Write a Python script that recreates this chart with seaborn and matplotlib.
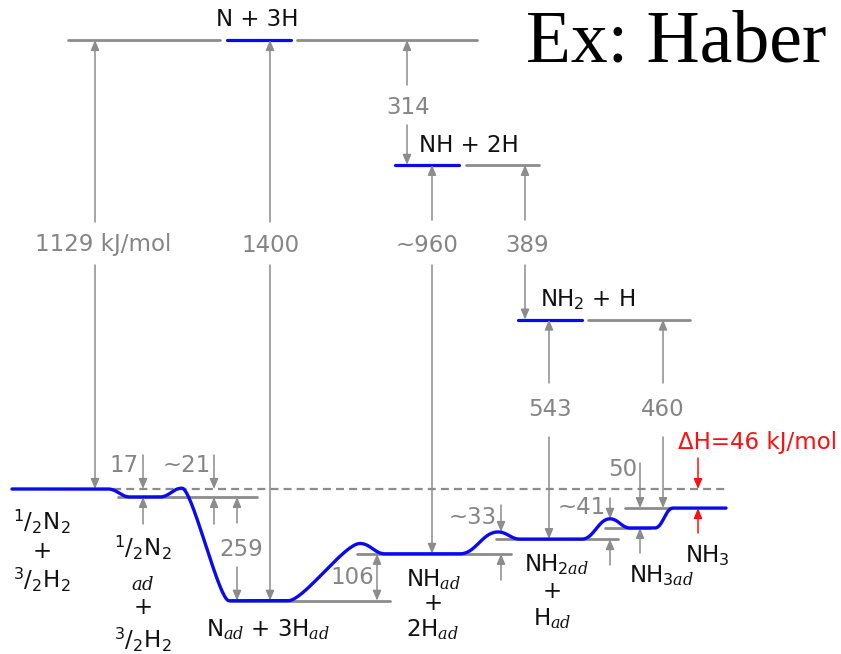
import numpy as np
import pandas as pd
import matplotlib
matplotlib.use("Agg")
import matplotlib.pyplot as plt
import seaborn as sns

# ---------------- data (kJ/mol, relative to 1/2 N2 + 3/2 H2) ----------------
E_ATOMS = 1129      # N + 3H
E_NH_2H = 815       # NH + 2H
E_NH2_H = 426       # NH2 + H
E_GAS = 0           # 1/2 N2 + 3/2 H2
E_N2AD = -20        # 1/2 N2,ad + 3/2 H2
E_NAD = -281        # N_ad + 3H_ad
E_NHAD = -163       # NH_ad + 2H_ad
E_NH2AD = -126      # NH2_ad + H_ad
E_NH3AD = -98       # NH3_ad
E_NH3 = -48         # NH3 (gas)
# transition-state barriers
B_N2 = 2
B_NH = -137
B_NH2 = -108
B_NH3 = -75

# reaction path (reaction coordinate, energy)
path_x = [12, 108, 130, 160, 182, 229, 288, 360, 385, 460, 498, 520, 582, 610, 630, 655, 673, 726]
path_E = [E_GAS, E_GAS, E_N2AD, E_N2AD, B_N2, E_NAD, E_NAD, B_NH, E_NHAD, E_NHAD,
          B_NH2, E_NH2AD, E_NH2AD, B_NH3, E_NH3AD, E_NH3AD, E_NH3, E_NH3]

# dimension labels
dim_labels = ["1129 kJ/mol", "1400", "314", "~960", "389", "543", "460", "259", "106"]
small_labels = ["17", "~21", "~33", "~41", "50"]
dH_label = "ΔH=46 kJ/mol"

# ---------------- helpers ----------------
PX_PER_KJ = 0.3977
ZERO_PX = 489


def ey(py):
    """pixel row -> energy (for placing text only)"""
    return (ZERO_PX - py) / PX_PER_KJ


GRAY = "#8c8c8c"
TGRAY = "#858585"
BLUE = "#0a0af0"
RED = "#ff1010"
BLACK = "#111111"

sns.set_theme(style="white")
plt.rcParams["font.family"] = ["DejaVu Sans"]
plt.rcParams["mathtext.fontset"] = "custom"
plt.rcParams["mathtext.rm"] = "DejaVu Sans"
plt.rcParams["mathtext.it"] = "DejaVu Serif:italic"
plt.rcParams["mathtext.bf"] = "DejaVu Sans:bold"

fig = plt.figure(figsize=(8.41, 6.54), dpi=100)
ax = fig.add_axes([0, 0, 1, 1])
ax.set_xlim(0, 841)
ax.set_ylim(ey(654), ey(0))
ax.axis("off")

# ---------------- level lines ----------------
gray_levels = [(68, 220, E_ATOMS), (297, 477, E_ATOMS), (466, 539, E_NH_2H), (588, 690, E_NH2_H),
               (118, 257, E_N2AD), (230, 390, E_NAD), (357, 511, E_NHAD), (496, 618, E_NH2AD),
               (605, 650, E_NH3AD), (625, 672, E_NH3)]
blue_levels = [(227, 291, E_ATOMS), (395, 459, E_NH_2H), (518, 582, E_NH2_H)]


def seg_frame(levels):
    rows = []
    for i, (x0, x1, e) in enumerate(levels):
        rows.append(dict(seg=i, x=x0, E=e))
        rows.append(dict(seg=i, x=x1, E=e))
    return pd.DataFrame(rows)


sns.lineplot(data=seg_frame(gray_levels), x="x", y="E", units="seg", estimator=None,
             sort=False, color=GRAY, lw=2.0, ax=ax, legend=False)
sns.lineplot(data=seg_frame(blue_levels), x="x", y="E", units="seg", estimator=None,
             sort=False, color=BLUE, lw=2.3, ax=ax, legend=False)

# dashed reference line
ax.plot([100, 727], [E_GAS, E_GAS], color=GRAY, lw=1.6, dashes=(3.6, 2.3), zorder=2)


# ---------------- reaction path (smooth) ----------------
def smooth_path(xs, es, n=40):
    pts = []
    for i in range(len(xs) - 1):
        x0, y0, x1, y1 = xs[i], es[i], xs[i + 1], es[i + 1]
        dx = x1 - x0
        k = 0.22 if abs(y1 - y0) > 100 else 0.42
        P = np.array([[x0, y0], [x0 + k * dx, y0], [x1 - k * dx, y1], [x1, y1]], float)
        t = np.linspace(0, 1, n)[:, None]
        B = (1 - t) ** 3 * P[0] + 3 * (1 - t) ** 2 * t * P[1] + 3 * (1 - t) * t ** 2 * P[2] + t ** 3 * P[3]
        pts.append(B if i == 0 else B[1:])
    return np.vstack(pts)


curve = smooth_path(path_x, path_E)
sns.lineplot(x=curve[:, 0], y=curve[:, 1], sort=False, estimator=None, color=BLUE, lw=2.4,
             ax=ax, zorder=5)


# ---------------- arrows ----------------
def arrow(x, y_from, y_to, color=GRAY):
    ax.annotate("", xy=(x, y_to), xytext=(x, y_from),
                arrowprops=dict(arrowstyle="-|>,head_length=0.6,head_width=0.25", mutation_scale=10,
                                color=color, lw=1.1, shrinkA=0, shrinkB=0), zorder=4)


def dim_arrow(x, e_top, e_bot, label, lx, ly, gap_up, gap_dn):
    arrow(x, ey(ly - gap_up), e_top)
    arrow(x, ey(ly + gap_dn), e_bot)
    ax.text(lx, ey(ly), label, color=TGRAY, fontsize=16.5, ha="center", va="center")


dim_arrow(95, E_ATOMS, E_GAS, dim_labels[0], 103, 245, 23, 20)
dim_arrow(270, E_ATOMS, E_NAD, dim_labels[1], 271, 245, 23, 20)
dim_arrow(407, E_ATOMS, E_NH_2H, dim_labels[2], 408, 107, 22, 18)
dim_arrow(432, E_NH_2H, E_NHAD, dim_labels[3], 427, 245, 25, 20)
dim_arrow(525, E_NH_2H, E_NH2_H, dim_labels[4], 527, 245, 25, 20)
dim_arrow(549, E_NH2_H, E_NH2AD, dim_labels[5], 550, 410, 27, 27)
dim_arrow(663, E_NH2_H, E_NH3, dim_labels[6], 663, 410, 27, 27)
dim_arrow(237, E_N2AD, E_NAD, dim_labels[7], 241, 550, 27, 17)

# 106: plain double arrow with label on the left
ax.annotate("", xy=(377, E_NAD), xytext=(377, E_NHAD),
            arrowprops=dict(arrowstyle="<|-|>,head_length=0.6,head_width=0.25", mutation_scale=10,
                            color=GRAY, lw=1.1, shrinkA=0, shrinkB=0), zorder=4)
ax.text(352, ey(577), dim_labels[8], color=TGRAY, fontsize=16.5, ha="center", va="center")


# small "outside" dimension arrows
def small_dim(x, top_px, e_top, bot_px, e_bot, label, lx, ly, color=GRAY, tcolor=TGRAY, ha="right"):
    arrow(x, ey(top_px), e_top, color)
    arrow(x, ey(bot_px), e_bot, color)
    ax.text(lx, ey(ly), label, color=tcolor, fontsize=16.5, ha=ha, va="center")


small_dim(143, 455, E_GAS, 524, E_N2AD, small_labels[0], 139, 465)
small_dim(214, 455, E_GAS, 524, E_N2AD, small_labels[1], 211, 465)
small_dim(501, 505, B_NH2, 580, E_NHAD, small_labels[2], 497, 517)
small_dim(610, 498, B_NH3, 565, E_NH2AD, small_labels[3], 606, 508)
small_dim(640, 463, E_NH3, 553, E_NH3AD, small_labels[4], 637, 470)
small_dim(698, 458, E_GAS, 533, E_NH3, dH_label, 758, 443, color=RED, tcolor=RED, ha="center")

# ---------------- species labels ----------------
FS = 16.5


def lab(x, py, s, size=FS, color=BLACK):
    ax.text(x, ey(py), s, color=color, fontsize=size, ha="center", va="center")


lab(257, 20, "N + 3H")
lab(469, 146, "NH + 2H")
lab(588, 300, r"NH$_2$ + H")

lab(42, 522, r"$^1/_2$N$_2$")
lab(42, 551, "+")
lab(42, 580, r"$^3/_2$H$_2$")

lab(143, 548, r"$^1/_2$N$_2$")
lab(143, 585, r"$ad$", size=13)
lab(143, 608, "+")
lab(143, 640, r"$^3/_2$H$_2$")

lab(268, 630, r"N$_{ad}$ + 3H$_{ad}$")

lab(433, 580, r"NH$_{ad}$")
lab(433, 604, "+")
lab(433, 630, r"2H$_{ad}$")

lab(556, 565, r"NH$_{2ad}$")
lab(552, 591, "+")
lab(552, 619, r"H$_{ad}$")

lab(661, 576, r"NH$_{3ad}$")
lab(707, 556, r"NH$_3$")

# title
ax.text(676, ey(61), "Ex: Haber", family="Liberation Serif", fontsize=53, color="black",
        ha="center", va="baseline")

fig.savefig("out.png", dpi=100)
